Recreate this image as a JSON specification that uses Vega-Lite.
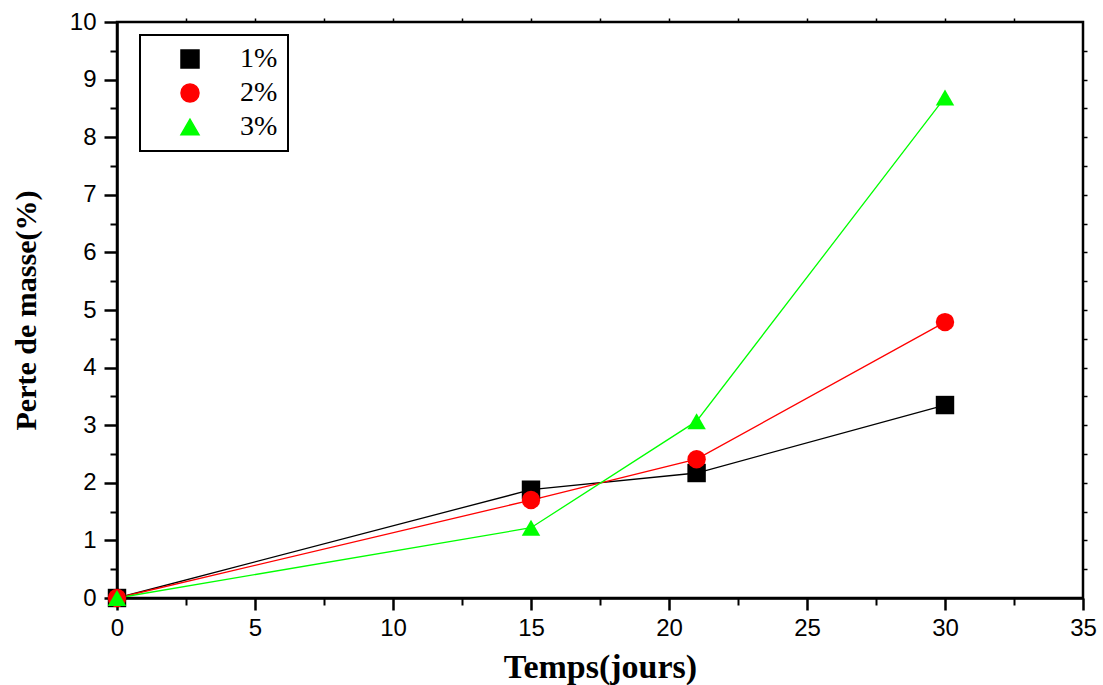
{
  "$schema": "https://vega.github.io/schema/vega-lite/v6.json",
  "autosize": "none",
  "width": 966,
  "height": 576,
  "padding": {"left": 117, "top": 22, "right": 20, "bottom": 87},
  "background": "white",
  "config": {
    "view": {"stroke": "black", "strokeWidth": 2.5},
    "axis": {
      "labelFont": "Liberation Sans",
      "labelFontSize": 24,
      "labelColor": "black",
      "labelFlush": false,
      "labelOverlap": false,
      "tickColor": "black",
      "domainColor": "black",
      "grid": false,
      "titleFont": "Liberation Serif",
      "titleFontWeight": "bold",
      "titleColor": "black"
    },
    "legend": {
      "strokeColor": "black",
      "strokeWidth": 2,
      "padding": 10,
      "labelFont": "Liberation Serif",
      "labelFontSize": 28,
      "labelColor": "black",
      "symbolSize": 324,
      "rowPadding": 6,
      "symbolOffset": 26,
      "labelOffset": 36
    }
  },
  "data": {
    "values": [
      {"t": 0, "p": 0, "s": "1%"},
      {"t": 15, "p": 1.88, "s": "1%"},
      {"t": 21, "p": 2.17, "s": "1%"},
      {"t": 30, "p": 3.35, "s": "1%"},
      {"t": 0, "p": 0, "s": "2%"},
      {"t": 15, "p": 1.70, "s": "2%"},
      {"t": 21, "p": 2.41, "s": "2%"},
      {"t": 30, "p": 4.79, "s": "2%"},
      {"t": 0, "p": 0, "s": "3%"},
      {"t": 15, "p": 1.22, "s": "3%"},
      {"t": 21, "p": 3.07, "s": "3%"},
      {"t": 30, "p": 8.69, "s": "3%"}
    ]
  },
  "resolve": {"axis": {"x": "independent", "y": "independent"}},
  "layer": [
    {
      "mark": {"type": "line", "strokeWidth": 1.3, "clip": false},
      "encoding": {
        "x": {"field": "t", "type": "quantitative", "scale": {"domain": [0, 35], "nice": false, "zero": false},
          "axis": {"orient": "bottom", "values": [0, 5, 10, 15, 20, 25, 30, 35], "title": "Temps(jours)", "titleFontSize": 34, "titlePadding": 10, "tickSize": 12, "tickWidth": 2.5, "domainWidth": 2.5, "labelPadding": 6, "labelFontSize": 24}},
        "y": {"field": "p", "type": "quantitative", "scale": {"domain": [0, 10], "nice": false},
          "axis": {"orient": "left", "values": [0, 1, 2, 3, 4, 5, 6, 7, 8, 9, 10], "title": "Perte de masse(%)", "titleFontSize": 30, "titlePadding": 28, "tickSize": 13, "tickWidth": 2.5, "domainWidth": 2.5, "labelPadding": 8, "labelFontSize": 24}},
        "color": {"field": "s", "type": "nominal", "scale": {"domain": ["1%", "2%", "3%"], "range": ["#000000", "#ff0000", "#00ff00"]},
          "legend": {"title": null, "orient": "none", "legendX": 23, "legendY": 13}}
      }
    },
    {
      "mark": {"type": "point", "filled": true, "opacity": 1, "clip": false, "size": 340},
      "encoding": {
        "x": {"field": "t", "type": "quantitative",
          "axis": {"orient": "bottom", "values": [2.5, 7.5, 12.5, 17.5, 22.5, 27.5, 32.5], "labels": false, "title": null, "tickSize": 7, "tickWidth": 2, "domain": false}},
        "y": {"field": "p", "type": "quantitative",
          "axis": {"orient": "left", "values": [0.5, 1.5, 2.5, 3.5, 4.5, 5.5, 6.5, 7.5, 8.5, 9.5], "labels": false, "title": null, "tickSize": 7, "tickWidth": 2, "domain": false}},
        "color": {"field": "s", "type": "nominal"},
        "shape": {"field": "s", "type": "nominal", "scale": {"domain": ["1%", "2%", "3%"], "range": ["square", "circle", "triangle-up"]}, "legend": null}
      }
    },
    {
      "mark": {"type": "point", "opacity": 0},
      "encoding": {
        "x": {"field": "t", "type": "quantitative",
          "axis": {"orient": "top", "values": [2.5, 5, 7.5, 10, 12.5, 15, 17.5, 20, 22.5, 25, 27.5, 30, 32.5], "labels": false, "title": null, "tickSize": 4, "tickWidth": 1.5, "domain": false}},
        "y": {"field": "p", "type": "quantitative",
          "axis": {"orient": "right", "values": [0.5, 1, 1.5, 2, 2.5, 3, 3.5, 4, 4.5, 5, 5.5, 6, 6.5, 7, 7.5, 8, 8.5, 9, 9.5], "labels": false, "title": null, "tickSize": 4, "tickWidth": 1.5, "domain": false}}
      }
    }
  ]
}
